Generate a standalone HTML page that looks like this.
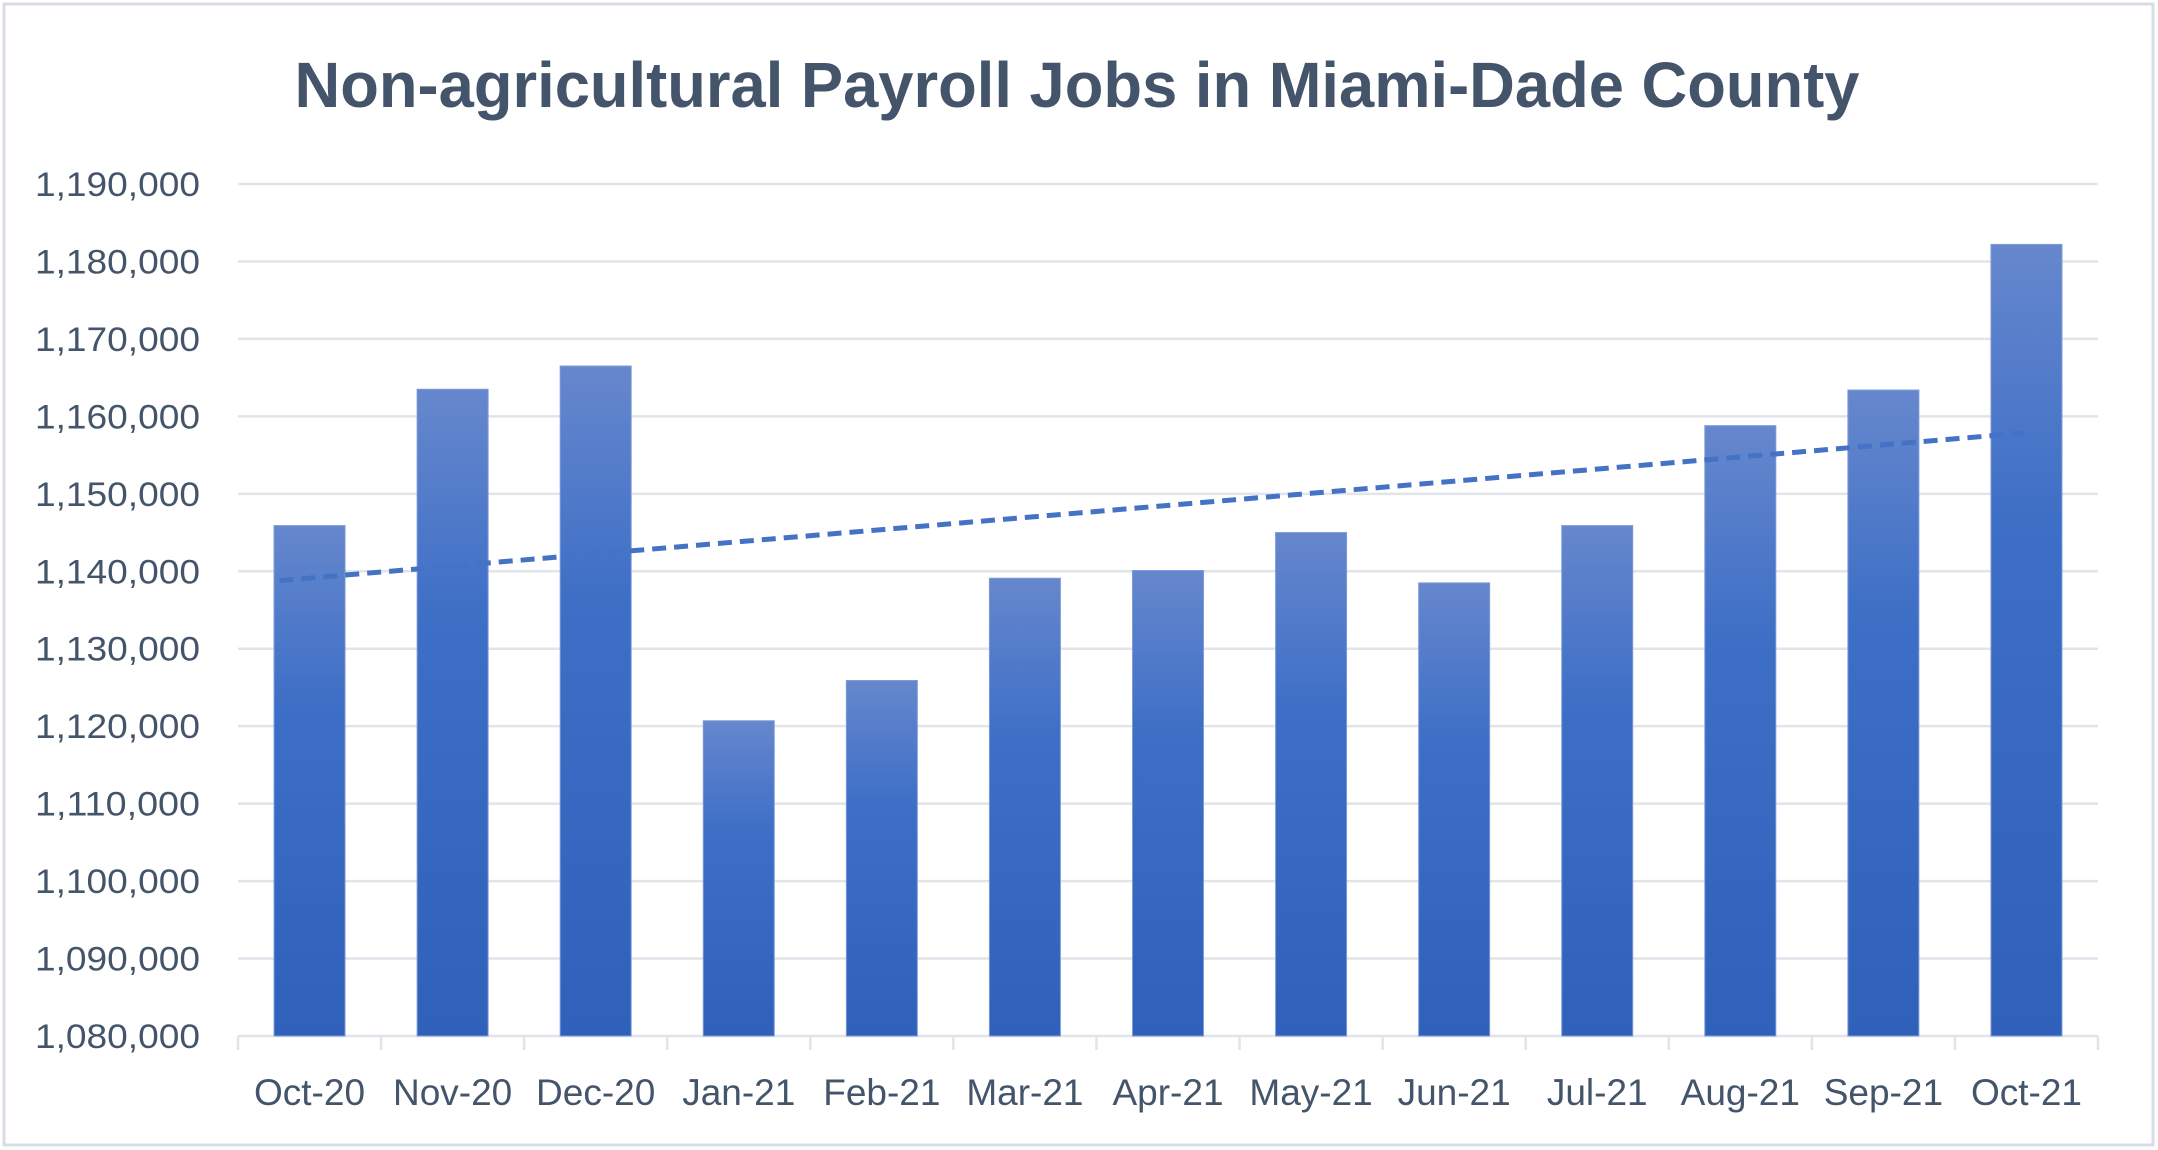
<!DOCTYPE html>
<html><head><meta charset="utf-8"><style>
html,body{margin:0;padding:0;background:#fff;}
svg{display:block;}
text{font-family:"Liberation Sans",sans-serif;fill:#44546a;}
</style></head><body>
<svg width="2158" height="1150" viewBox="0 0 2158 1150" xmlns="http://www.w3.org/2000/svg">
<defs>
<linearGradient id="g" x1="0" y1="0" x2="0" y2="1">
<stop offset="0" stop-color="#6687cd"/>
<stop offset="0.35" stop-color="#3d6fc6"/>
<stop offset="1" stop-color="#2f61bb"/>
</linearGradient>
</defs>
<rect x="4" y="4" width="2149" height="1141" fill="#fff" stroke="#d9dde3" stroke-width="3"/>
<text x="1077" y="107" font-size="64" font-weight="bold" text-anchor="middle" textLength="1565" lengthAdjust="spacingAndGlyphs">Non-agricultural Payroll Jobs in Miami-Dade County</text>
<g stroke="#e1e4ea" stroke-width="2.5" id="grid"></g>
<g id="yl"></g><g id="bars"></g><g id="xl"></g>
<line x1="279.5" y1="580.6" x2="2027" y2="432.7" stroke="#4472c4" stroke-width="5" stroke-dasharray="14,8"/>
</svg>
<script>
var ns="http://www.w3.org/2000/svg";
function el(t,a,p,txt){var e=document.createElementNS(ns,t);for(var k in a)e.setAttribute(k,a[k]);if(txt)e.textContent=txt;document.getElementById(p).appendChild(e);return e;}
var L=238,R=2098,T=184,B=1036;
function Y(v){return B-(v-1080000)/110000*(B-T);}
for(var i=0;i<=11;i++){var v=1080000+i*10000,y=Y(v);
el('line',{x1:L,y1:y,x2:R,y2:y},'grid');
el('text',{x:200,y:y+12,'font-size':34,'text-anchor':'end',textLength:165,lengthAdjust:'spacingAndGlyphs'},'yl',v.toLocaleString('en-US'));}
var cats=["Oct-20","Nov-20","Dec-20","Jan-21","Feb-21","Mar-21","Apr-21","May-21","Jun-21","Jul-21","Aug-21","Sep-21","Oct-21"];
var vals=[1145900,1163500,1166500,1120700,1125900,1139100,1140100,1145000,1138500,1145900,1158800,1163400,1182200];
var cw=(R-L)/13,bw=71;
for(var i=0;i<13;i++){var cx=L+cw*(i+0.5),y=Y(vals[i]);
el('rect',{x:cx-bw/2,y:y,width:bw,height:B-y,fill:'url(#g)',stroke:'#7d9bd8','stroke-width':1},'bars');
el('text',{x:cx,y:1105,'font-size':37,'text-anchor':'middle'},'xl',cats[i]);}
for(var i=0;i<=13;i++){var x=L+cw*i;el('line',{x1:x,y1:B,x2:x,y2:B+14},'grid');}
</script>
</body></html>
